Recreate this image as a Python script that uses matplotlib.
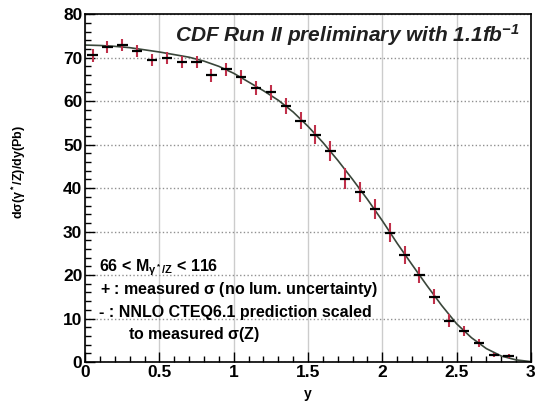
import matplotlib.pyplot as plt
import numpy as np
from matplotlib.ticker import MultipleLocator

# Measured points (bin centres, cross section, errors)
y_bins = [0.05, 0.15, 0.25, 0.35, 0.45, 0.55, 0.65, 0.75, 0.85, 0.95,
          1.05, 1.15, 1.25, 1.35, 1.45, 1.55, 1.65, 1.75, 1.85, 1.95,
          2.05, 2.15, 2.25, 2.35, 2.45, 2.55, 2.65, 2.75, 2.85]
sigma = [70.5, 72.5, 73.0, 71.5, 69.5, 70.0, 69.0, 69.0, 66.0, 67.3,
         65.6, 63.1, 62.0, 58.9, 55.5, 52.3, 48.5, 42.2, 39.1, 35.1,
         29.7, 24.6, 20.0, 15.0, 9.5, 7.1, 4.4, 1.6, 1.4]
sigma_err = [1.5, 1.4, 1.4, 1.4, 1.4, 1.4, 1.4, 1.4, 1.5, 1.5,
             1.6, 1.6, 1.7, 1.8, 2.0, 2.2, 2.3, 2.4, 2.4, 2.3,
             2.2, 2.0, 1.9, 1.7, 1.5, 1.2, 1.0, 0.5, 0.5]

# NNLO prediction
y_theory = [0.0, 0.1, 0.2, 0.3, 0.4, 0.5, 0.6, 0.7, 0.8, 0.9,
            1.0, 1.1, 1.2, 1.3, 1.4, 1.5, 1.6, 1.7, 1.8, 1.9,
            2.0, 2.1, 2.2, 2.3, 2.4, 2.5, 2.6, 2.7, 2.8, 2.9, 3.0]
sigma_theory = [72.9, 72.8, 72.6, 72.3, 71.8, 71.3, 70.7, 70.1, 69.2, 68.0,
                66.4, 64.4, 62.4, 60.2, 57.5, 54.2, 50.5, 46.4, 42.0, 37.4,
                32.5, 27.3, 22.4, 17.6, 13.0, 8.8, 5.6, 3.1, 1.4, 0.5, 0.1]

plt.rcParams['font.family'] = ['Liberation Sans', 'DejaVu Sans']
plt.rcParams['font.weight'] = 'bold'
plt.rcParams['mathtext.default'] = 'regular'

fig = plt.figure(figsize=(5.39, 4.05), dpi=100)
ax = fig.add_axes([0.158, 0.106, 0.827, 0.859])

ax.plot(y_theory, sigma_theory, color='#3a463a', lw=1.2, zorder=2)

# red vertical error bars, black horizontal bars
ax.errorbar(y_bins, sigma, yerr=sigma_err, fmt='none', ecolor='#c0304a',
            elinewidth=1.5, capsize=0, zorder=3)
ax.errorbar(y_bins, sigma, xerr=0.035, fmt='none', ecolor='black',
            elinewidth=1.6, capsize=0, zorder=4)

ax.set_xlim(0, 3)
ax.set_ylim(0, 80)
ax.xaxis.set_major_locator(MultipleLocator(0.5))
ax.xaxis.set_minor_locator(MultipleLocator(0.1))
ax.yaxis.set_major_locator(MultipleLocator(10))
ax.yaxis.set_minor_locator(MultipleLocator(2))
ax.set_xticks([0, 0.5, 1, 1.5, 2, 2.5, 3])
ax.set_xticklabels(['0', '0.5', '1', '1.5', '2', '2.5', '3'])
ax.tick_params(which='both', direction='in', top=False, right=False,
               labelsize=12.5, pad=2)
ax.tick_params(which='major', length=7, width=1)
ax.tick_params(which='minor', length=4, width=1)
ax.xaxis.grid(True, which='major', color='#cccccc', linestyle='-', lw=1)
ax.yaxis.grid(True, which='major', color='#909090', linestyle=':', lw=1)
for s in ax.spines.values():
    s.set_linewidth(1.2)

ax.set_xlabel('y', fontsize=10, fontweight='bold', labelpad=5)
fig.text(19 / 539, 1 - 172 / 405, r'd$\sigma$($\gamma^*$/Z)/dy(Pb)',
         rotation=90, ha='center', va='center', fontsize=9,
         fontweight='bold')

ax.text(0.975, 0.978, r'CDF Run II preliminary with 1.1fb$^{-1}$',
        transform=ax.transAxes, ha='right', va='top', fontsize=15,
        fontweight='bold', fontstyle='italic', color='#202020')

ax.text(0.03, 0.26, r'66 < M$_{\gamma^*/Z}$ < 116', transform=ax.transAxes,
        fontsize=11.5, fontweight='bold')
ax.text(0.033, 0.195, r'+ : measured $\sigma$ (no lum. uncertainty)',
        transform=ax.transAxes, fontsize=11.5, fontweight='bold')
ax.text(0.03, 0.13, '- : NNLO CTEQ6.1 prediction scaled',
        transform=ax.transAxes, fontsize=11.5, fontweight='bold')
ax.text(0.097, 0.065, r'to measured $\sigma$(Z)',
        transform=ax.transAxes, fontsize=11.5, fontweight='bold')

plt.savefig('out.png', dpi=100)
